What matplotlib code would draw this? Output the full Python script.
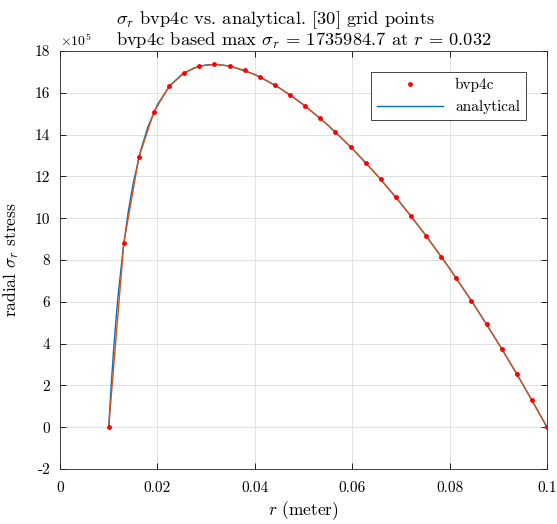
import numpy as np
import matplotlib
matplotlib.use('Agg')
import matplotlib.pyplot as plt

plt.rcParams['font.family'] = 'serif'
plt.rcParams['font.serif'] = ['cmr10', 'DejaVu Serif']
plt.rcParams['mathtext.fontset'] = 'cm'
plt.rcParams['axes.unicode_minus'] = False

# bvp4c solution on 30 grid points
r_grid = [0.01, 0.0131034, 0.0162069, 0.0193103, 0.0224138, 0.0255172,
          0.0286207, 0.0317241, 0.0348276, 0.037931, 0.0410345, 0.0441379,
          0.0472414, 0.0503448, 0.0534483, 0.0565517, 0.0596552, 0.0627586,
          0.0658621, 0.0689655, 0.072069, 0.0751724, 0.0782759, 0.0813793,
          0.0844828, 0.0875862, 0.0906897, 0.0937931, 0.0968966, 0.1]
sigma_bvp = [0, 879600, 1292360, 1509940, 1630340, 1695930,
             1727430, 1735985, 1727970, 1707310, 1676470, 1637090,
             1590290, 1536840, 1477340, 1412190, 1341690, 1266080,
             1185540, 1100210, 1010200, 915600, 816490, 712910,
             604930, 492570, 375870, 254860, 129560, 0]

# analytical curve
r_an = [0.010, 0.0105, 0.011, 0.0115, 0.012, 0.013, 0.014, 0.015, 0.0165,
        0.018, 0.020, 0.0225, 0.025, 0.0275, 0.030, 0.0325, 0.035, 0.040,
        0.045, 0.050, 0.055, 0.060, 0.065, 0.070, 0.075, 0.080, 0.085,
        0.090, 0.095, 0.100]
sigma_an = [0, 197050, 367450, 515720, 645440, 860230, 1029160, 1163880,
            1319060, 1433700, 1543100, 1632770, 1687760, 1719160, 1733600,
            1735340, 1727120, 1687760, 1624780, 1543100, 1445460, 1333540,
            1208400, 1070720, 920970, 759490, 586500, 402180, 206650, 0]

fig = plt.figure(figsize=(5.57, 5.24), dpi=100)
ax = fig.add_axes([60/557, 1-469/524, 487/557, 418/524])

ax.plot(r_grid, sigma_bvp, 'r.', markersize=5, label='bvp4c', zorder=4)
ax.plot(r_an, sigma_an, color='#0072BD', lw=1.0, label='analytical', zorder=2)
ax.plot(r_grid, sigma_bvp, color='#D95319', lw=1.0, zorder=3)

ax.set_xlim(0, 0.1)
ax.set_ylim(-2e5, 18e5)
xt = [0, 0.02, 0.04, 0.06, 0.08, 0.1]
ax.set_xticks(xt)
ax.set_xticklabels(['0', '0.02', '0.04', '0.06', '0.08', '0.1'])
yt = np.arange(-2, 19, 2)
ax.set_yticks(yt * 1e5)
ax.set_yticklabels([str(v) for v in yt])
ax.tick_params(direction='in', top=True, right=True, labelsize=11, length=4, width=0.6)
ax.tick_params(axis='x', pad=9)
ax.tick_params(axis='y', pad=7)
ax.grid(True, color='#dcdcdc', lw=0.6)
ax.set_axisbelow(True)
for s in ax.spines.values():
    s.set_linewidth(0.6)
    s.set_color('#262626')

ax.text(0, 1.005, r'$\times 10^5$', transform=ax.transAxes, fontsize=10,
        ha='left', va='bottom')

t = ax.set_title('$\\sigma_r$ bvp4c vs. analytical. [30] grid points\n'
                 'bvp4c based max $\\sigma_r$ = 1735984.7 at $r$ = 0.032',
                 fontsize=13.3, pad=4, linespacing=0.95)
t.set_multialignment('left')
ax.set_xlabel('$r$ (meter)', fontsize=12.5, labelpad=3)
ax.set_ylabel('radial $\\sigma_r$ stress', fontsize=12.5, labelpad=10)

leg = ax.legend(loc='upper right', bbox_to_anchor=(0.957, 0.95), fontsize=11,
                fancybox=False, edgecolor='#262626', framealpha=1,
                handlelength=4.3, borderpad=0.4, borderaxespad=0)
leg.get_frame().set_linewidth(0.6)

fig.savefig('out.png', dpi=100)
